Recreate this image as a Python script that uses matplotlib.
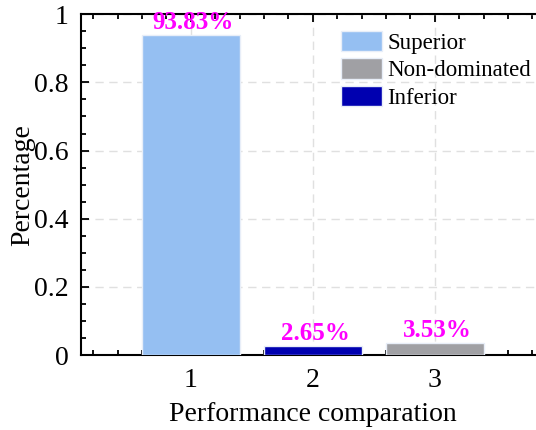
import matplotlib.pyplot as plt
from matplotlib.patches import Patch
from matplotlib.ticker import MultipleLocator

plt.rcParams['font.family'] = ['Liberation Serif', 'DejaVu Serif']
plt.rcParams['font.size'] = 20

# data
positions = [1, 2, 3]
values = [0.9383, 0.0265, 0.0353]
labels = ['93.83%', '2.65%', '3.53%']
bar_colors = ['#95bff2', '#0000b0', '#a0a0a4']
legend_names = ['Superior', 'Non-dominated', 'Inferior']
legend_colors = ['#95bff2', '#a0a0a4', '#0000b0']

fig = plt.figure(figsize=(5.36, 4.30), dpi=100)
ax = fig.add_axes([0.151, 0.174, 0.865, 0.793])

ax.bar(positions, values, width=0.8, color=bar_colors, edgecolor='#e8eef8',
       linewidth=1, zorder=3)
for x, v, t in zip(positions, values, labels):
    ax.text(x + 0.02, v + 0.003, t, ha='center', va='bottom', color='#ff00ff',
            fontweight='bold', fontsize=18, zorder=4)

ax.set_xlim(0.1, 3.9)
ax.set_ylim(0, 1)
ax.set_xticks(positions)
ax.set_yticks([0, 0.2, 0.4, 0.6, 0.8, 1.0])
ax.set_yticklabels(['0', '0.2', '0.4', '0.6', '0.8', '1'])
ax.xaxis.set_minor_locator(MultipleLocator(0.2))
ax.yaxis.set_minor_locator(MultipleLocator(0.05))
ax.tick_params(which='both', direction='in', top=True, right=True, width=1.3)
ax.tick_params(which='major', length=6, pad=9)
ax.tick_params(which='minor', length=3.5)
for s in ax.spines.values():
    s.set_linewidth(1.5)

ax.grid(True, which='major', linestyle=(0, (6, 4)), color='#e0e0e0',
        linewidth=1, zorder=0)
ax.set_axisbelow(True)

ax.set_xlabel('Performance comparation', labelpad=7)
ax.set_ylabel('Percentage', labelpad=-1)

handles = [Patch(facecolor=c, edgecolor='#e8eef8') for c in legend_colors]
ax.legend(handles, legend_names, loc='upper left', bbox_to_anchor=(0.561, 0.952),
          frameon=False, fontsize=16.5, handlelength=1.8, handleheight=1.0,
          handletextpad=0.22, labelspacing=0.2, borderaxespad=0, borderpad=0)

fig.savefig('out.png', dpi=100)
